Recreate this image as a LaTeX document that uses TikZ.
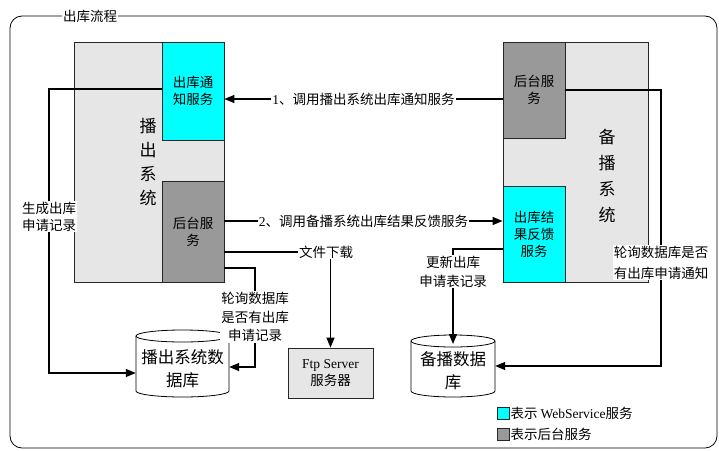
\documentclass[tikz,border=0pt]{standalone}
\usepackage{fontspec}
\setmainfont{Noto Sans CJK SC}
\newfontfamily\lat{Liberation Serif}
\usetikzlibrary{arrows.meta}
\definecolor{lightbg}{HTML}{E6E6E6}
\definecolor{darkbox}{HTML}{999999}
\definecolor{svc}{HTML}{00FFFF}
\begin{document}
\begin{tikzpicture}[x=1pt,y=-1pt,
  font=\fontsize{13.5}{17}\selectfont,
  sysbox/.style={draw=black!85, fill=lightbg, line width=0.8pt, inner sep=0pt},
  svcbox/.style={draw=black!85, fill=svc, line width=0.8pt, inner sep=0pt, align=center, minimum width=62pt},
  bgbox/.style={draw=black!85, fill=darkbox, line width=0.8pt, inner sep=0pt, align=center, minimum width=62pt},
  conn/.style={line width=1.3pt},
  arr/.style={conn, -{Triangle[length=10pt,width=8pt]}},
  lbl/.style={fill=white, inner sep=1pt, align=center},
  dbtext/.style={inner sep=0pt, align=center, font=\fontsize{16.5}{23}\selectfont}]
\useasboundingbox (0,0) rectangle (719,450);
% frame
\draw[line width=0.8pt, rounded corners=12pt] (10,16) rectangle (717,448);
\node[fill=white, inner sep=1pt] (title) at (90,16) {出库流程};
% left system
\node[sysbox, minimum width=150pt, minimum height=240pt] (lsys) at (149,162) {};
\node[align=center, inner sep=0pt, font=\fontsize{17}{24}\selectfont] (lsyst) at (148,162) {播\\出\\系\\统};
\node[svcbox, minimum height=98pt] (lcyan) at (193,91) {出库通\\知服务};
\node[bgbox, minimum height=101pt] (lback) at (193,231.5) {后台服\\务};
% right system
\node[sysbox, minimum width=145pt, minimum height=240pt] (rsys) at (575.5,162) {};
\node[align=center, inner sep=0pt, font=\fontsize{17}{26}\selectfont] (rsyst) at (607,176) {备\\播\\系\\统};
\node[bgbox, minimum height=96pt] (rback) at (534,90) {后台服\\务};
\node[svcbox, minimum height=96pt] (rcyan) at (534,234) {出库结\\果反馈\\服务};
% databases
\draw[fill=white, line width=0.8pt] (136,336) -- (136,391) arc[start angle=180, end angle=360, x radius=46.5pt, y radius=6pt] -- (229,336);
\draw[fill=white, line width=0.8pt] (182.5,336) ellipse [x radius=46.5pt, y radius=6pt];
\node[dbtext, minimum width=93pt, minimum height=50pt] (db1) at (182.5,369) {播出系统数\\据库};
\draw[fill=white, line width=0.8pt] (411,341) -- (411,391) arc[start angle=180, end angle=360, x radius=42pt, y radius=6pt] -- (495,341);
\draw[fill=white, line width=0.8pt] (453,341) ellipse [x radius=42pt, y radius=6pt];
\node[dbtext, minimum width=84pt, minimum height=46pt] (db2) at (453,371) {备播数据\\库};
\coordinate (db2top) at (453,344);
% ftp
\node[draw=black!85, fill=lightbg, line width=0.8pt, minimum width=85pt, minimum height=50pt, inner sep=0pt, align=center, font=\fontsize{13.5}{17}\selectfont] (ftp) at (330.5,373) {{\lat Ftp Server}\\服务器};
% labels
\node[lbl] (l1) at (363.5,99) {{\lat 1}、调用播出系统出库通知服务};
\node[lbl] (l2) at (363.5,221) {{\lat 2}、调用备播系统出库结果反馈服务};
\node[lbl] (gen) at (49,216.5) {生成出库\\申请记录};
\node[lbl, font=\fontsize{13.5}{18.5}\selectfont] (poll1) at (255,317) {轮询数据库\\是否有出库\\申请记录};
\node[lbl] (dl) at (326,252) {文件下载};
\node[lbl, font=\fontsize{13.5}{21}\selectfont] (poll2) at (661,262.5) {轮询数据库是否\\有出库申请通知};
\node[lbl, font=\fontsize{13.5}{19}\selectfont] (upd) at (453,271.5) {更新出库\\申请表记录};
% connectors
\draw[conn] (rback.west |- l1) -- (l1.east);
\draw[arr] (l1.west) -- (lcyan.east |- l1);
\draw[conn] (lback.east |- l2) -- (l2.west);
\draw[arr] (l2.east) -- (rcyan.west |- l2);
\draw[conn] (lcyan.west |- 0,89) -| (gen.north);
\draw[arr] (gen.south) |- (db1.west |- 0,373);
\draw[conn] (lback.east |- 0,268) -| (poll1.north);
\draw[arr] (poll1.south) |- (db1.east |- 0,367);
\draw[conn] (lback.east |- dl) -- (dl.west);
\draw[arr] (ftp.north |- dl.south) -- (ftp.north);
\draw[conn] (rback.east |- 0,90) -| (poll2.north);
\draw[arr] (poll2.south) |- (db2.east |- 0,366);
\draw[conn] (rcyan.west |- 0,249) -| (upd.north);
\draw[arr] (upd.south) -- (db2top);
% legend
\node[draw=black!85, fill=svc, line width=0.8pt, minimum size=12pt, inner sep=0pt] (lg1) at (503.5,413) {};
\node[anchor=west, inner sep=0.5pt] (lg1t) at (lg1.east) {表示 {\lat WebService}服务};
\node[draw=black!85, fill=darkbox, line width=0.8pt, minimum size=12pt, inner sep=0pt] (lg2) at (503.5,434) {};
\node[anchor=west, inner sep=0.5pt] (lg2t) at (lg2.east) {表示后台服务};
\end{tikzpicture}
\end{document}
